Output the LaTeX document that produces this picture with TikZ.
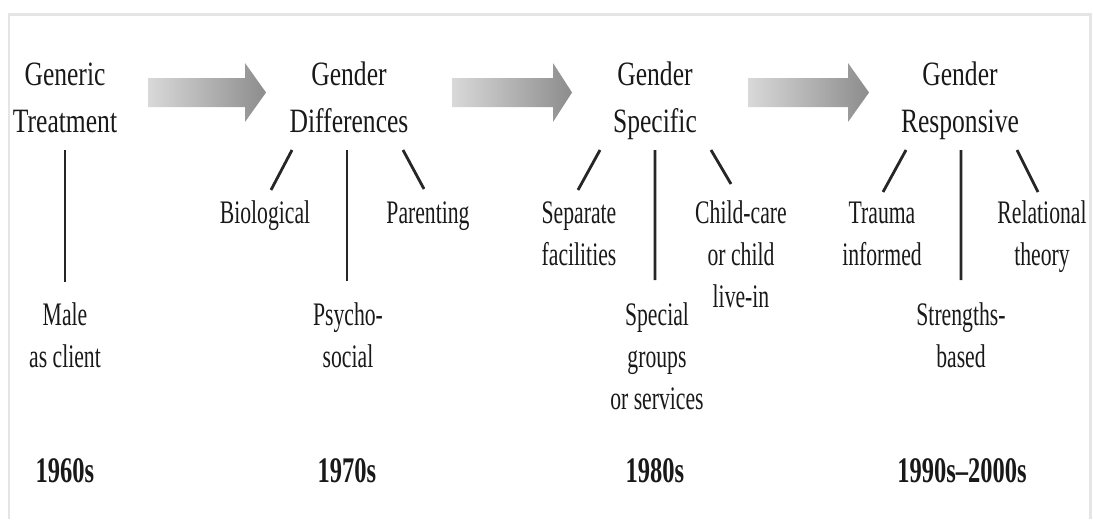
\documentclass[tikz,border=0pt]{standalone}
\usepackage{fontspec}
\setmainfont{Liberation Serif}
\newfontfamily\headfont[FakeStretch=0.75]{Liberation Serif}
\newfontfamily\itemfont[FakeStretch=0.66]{Liberation Serif}
\newfontfamily\yearfont[FakeStretch=0.68]{Liberation Serif}
\usetikzlibrary{positioning}
\tikzset{
  heading/.style={align=center, anchor=base, inner sep=0pt, text=black!90,
    font=\headfont\fontsize{19.4pt}{26.2pt}\selectfont},
  branch/.style={align=center, anchor=base, inner sep=0pt, text=black!90,
    font=\itemfont\fontsize{18.7pt}{23.9pt}\selectfont},
  decade/.style={anchor=base, inner sep=0pt, text=black!90,
    font=\yearfont\bfseries\fontsize{20.5pt}{24pt}\selectfont},
  stem/.style={line width=1.6pt, draw=black!85},
  frame/.style={line width=1.7pt, draw=gray!20},
  flowarrow/.style={left color=gray!30, right color=gray!90}
}

\begin{document}
\begin{tikzpicture}[x=.5cm, y=.5cm]
\useasboundingbox (0,0) rectangle (43.72,-20.76);
\draw[frame] (0.36,-20.76) -- (0.36,-0.56) -- (43.6,-0.56) -- (43.6,-20.76);

% big arrows between the stages
\foreach \x/\b/\t in {5.92/9.8/10.64, 18.08/22.12/22.88, 29.92/33.92/34.76}
{
    \shade[flowarrow] (\x,-3.12) -- (\b,-3.12) -- (\b,-2.52) -- (\t,-3.7)
        -- (\b,-4.88) -- (\b,-4.28) -- (\x,-4.28) -- cycle;
}

% 1960s
\node[heading] (generic) at (2.6,-5.28) {Generic\\Treatment};
\node[branch] (male) at (2.6,-14.68) {Male\\as client};
\node[decade] (y60) at (2.6,-19.28) {1960s};
\draw[stem] ([shift={(0,-0.72)}]generic.base) -- ([shift={(0,3.4)}]male.base);

% 1970s
\node[heading] (diff) at (13.96,-5.28) {Gender\\Differences};
\node[branch] (bio) at (10.6,-8.92) {Biological};
\node[branch] (parent) at (17.12,-8.92) {Parenting};
\node[branch] (psycho) at (13.92,-14.68) {Psycho-\\social};
\node[decade] (y70) at (13.88,-19.28) {1970s};
\draw[stem] ([shift={(-2.28,-0.72)}]diff.base) -- ([shift={(0.24,1.32)}]bio.base);
\draw[stem] ([shift={(-0.08,-0.72)}]diff.base) -- ([shift={(-0.04,3.44)}]psycho.base);
\draw[stem] ([shift={(2.16,-0.72)}]diff.base) -- ([shift={(-0.16,1.36)}]parent.base);

% 1980s
\node[heading] (spec) at (26.2,-5.28) {Gender\\Specific};
\node[branch] (separate) at (23.16,-10.6) {Separate\\facilities};
\node[branch] (childcare) at (29.64,-12.28) {Child-care\\or child\\live-in};
\node[branch] (special) at (26.28,-16.36) {Special\\groups\\or services};
\node[decade] (y80) at (26.2,-19.28) {1980s};
\draw[stem] ([shift={(-2.2,-0.72)}]spec.base) -- ([shift={(-0.04,3.0)}]separate.base);
\draw[stem] ([shift={(0,-0.72)}]spec.base) -- ([shift={(-0.08,5.16)}]special.base);
\draw[stem] ([shift={(2.24,-0.72)}]spec.base) -- ([shift={(-0.4,4.92)}]childcare.base);

% 1990s-2000s
\node[heading] (resp) at (38.4,-5.28) {Gender\\Responsive};
\node[branch] (trauma) at (35.28,-10.6) {Trauma\\informed};
\node[branch] (relational) at (41.68,-10.6) {Relational\\theory};
\node[branch] (strength) at (38.44,-14.68) {Strengths-\\based};
\node[decade] (y90) at (38.48,-19.28) {1990s\textendash2000s};
\draw[stem] ([shift={(-2.16,-0.72)}]resp.base) -- ([shift={(0.04,2.92)}]trauma.base);
\draw[stem] ([shift={(0.04,-0.72)}]resp.base) -- ([shift={(0,3.48)}]strength.base);
\draw[stem] ([shift={(2.28,-0.72)}]resp.base) -- ([shift={(-0.16,2.92)}]relational.base);
\end{tikzpicture}
\end{document}
